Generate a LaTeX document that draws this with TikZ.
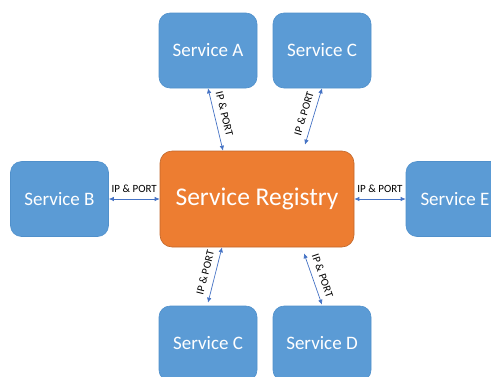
\documentclass[tikz,border=0pt]{standalone}
\usepackage{fontspec}
\setmainfont{Carlito}
\usetikzlibrary{arrows.meta}
\definecolor{svcblue}{HTML}{5B9BD5}
\definecolor{svcedge}{HTML}{5090CB}
\definecolor{regorange}{HTML}{ED7D31}
\definecolor{regedge}{HTML}{C0662A}
\definecolor{arrowblue}{HTML}{4472C4}
\begin{document}
\begin{tikzpicture}[x=1pt,y=-1pt,
  svc/.style={draw=svcedge, line width=0.6pt, fill=svcblue, rounded corners=11pt,
    minimum width=98pt, minimum height=75pt, text=white, inner sep=0pt,
    font=\fontsize{19}{22}\selectfont},
  reg/.style={draw=regedge, line width=0.6pt, fill=regorange, rounded corners=12pt,
    minimum width=194pt, minimum height=96pt, text=white, inner sep=0pt,
    font=\fontsize{25.5}{30}\selectfont},
  link/.style={arrowblue, line width=0.7pt,
    {Latex[length=5pt,width=4.5pt]}-{Latex[length=5pt,width=4.5pt]}},
  lbl/.style={font=\fontsize{11}{13}\selectfont, text=black, inner sep=2pt,
    sloped, above=4pt}]
\useasboundingbox (0,0) rectangle (491,376);
\clip (0,0) rectangle (491,376);
\node[reg] (R) at (257,199) {Service Registry};
\node[svc] (A) at (208,50.5) {Service A};
\node[svc] (C1) at (322,50.5) {Service C};
\node[svc] (B) at (59.5,199) {Service B};
\node[svc] (E) at (455,199) {Service E};
\node[svc] (C2) at (208,343.5) {Service C};
\node[svc] (D) at (322,343.5) {Service D};
\draw[link] (A.south) -- node[lbl, pos=0.45] {IP \& PORT} ([xshift=-34pt]R.north);
\draw[link] (C1.south) -- node[lbl, pos=0.5] {IP \& PORT} ([xshift=48pt,yshift=6pt]R.north);
\draw[link] ([xshift=-35pt]R.south) -- node[lbl, pos=0.5] {IP \& PORT} ([yshift=3pt]C2.north);
\draw[link] ([xshift=47pt,yshift=-6pt]R.south) -- node[lbl, pos=0.5] {IP \& PORT} ([yshift=1pt]D.north);
\draw[link] (B.east) -- node[lbl] {IP \& PORT} (R.west);
\draw[link] (R.east) -- node[lbl] {IP \& PORT} (E.west);
\end{tikzpicture}
\end{document}
